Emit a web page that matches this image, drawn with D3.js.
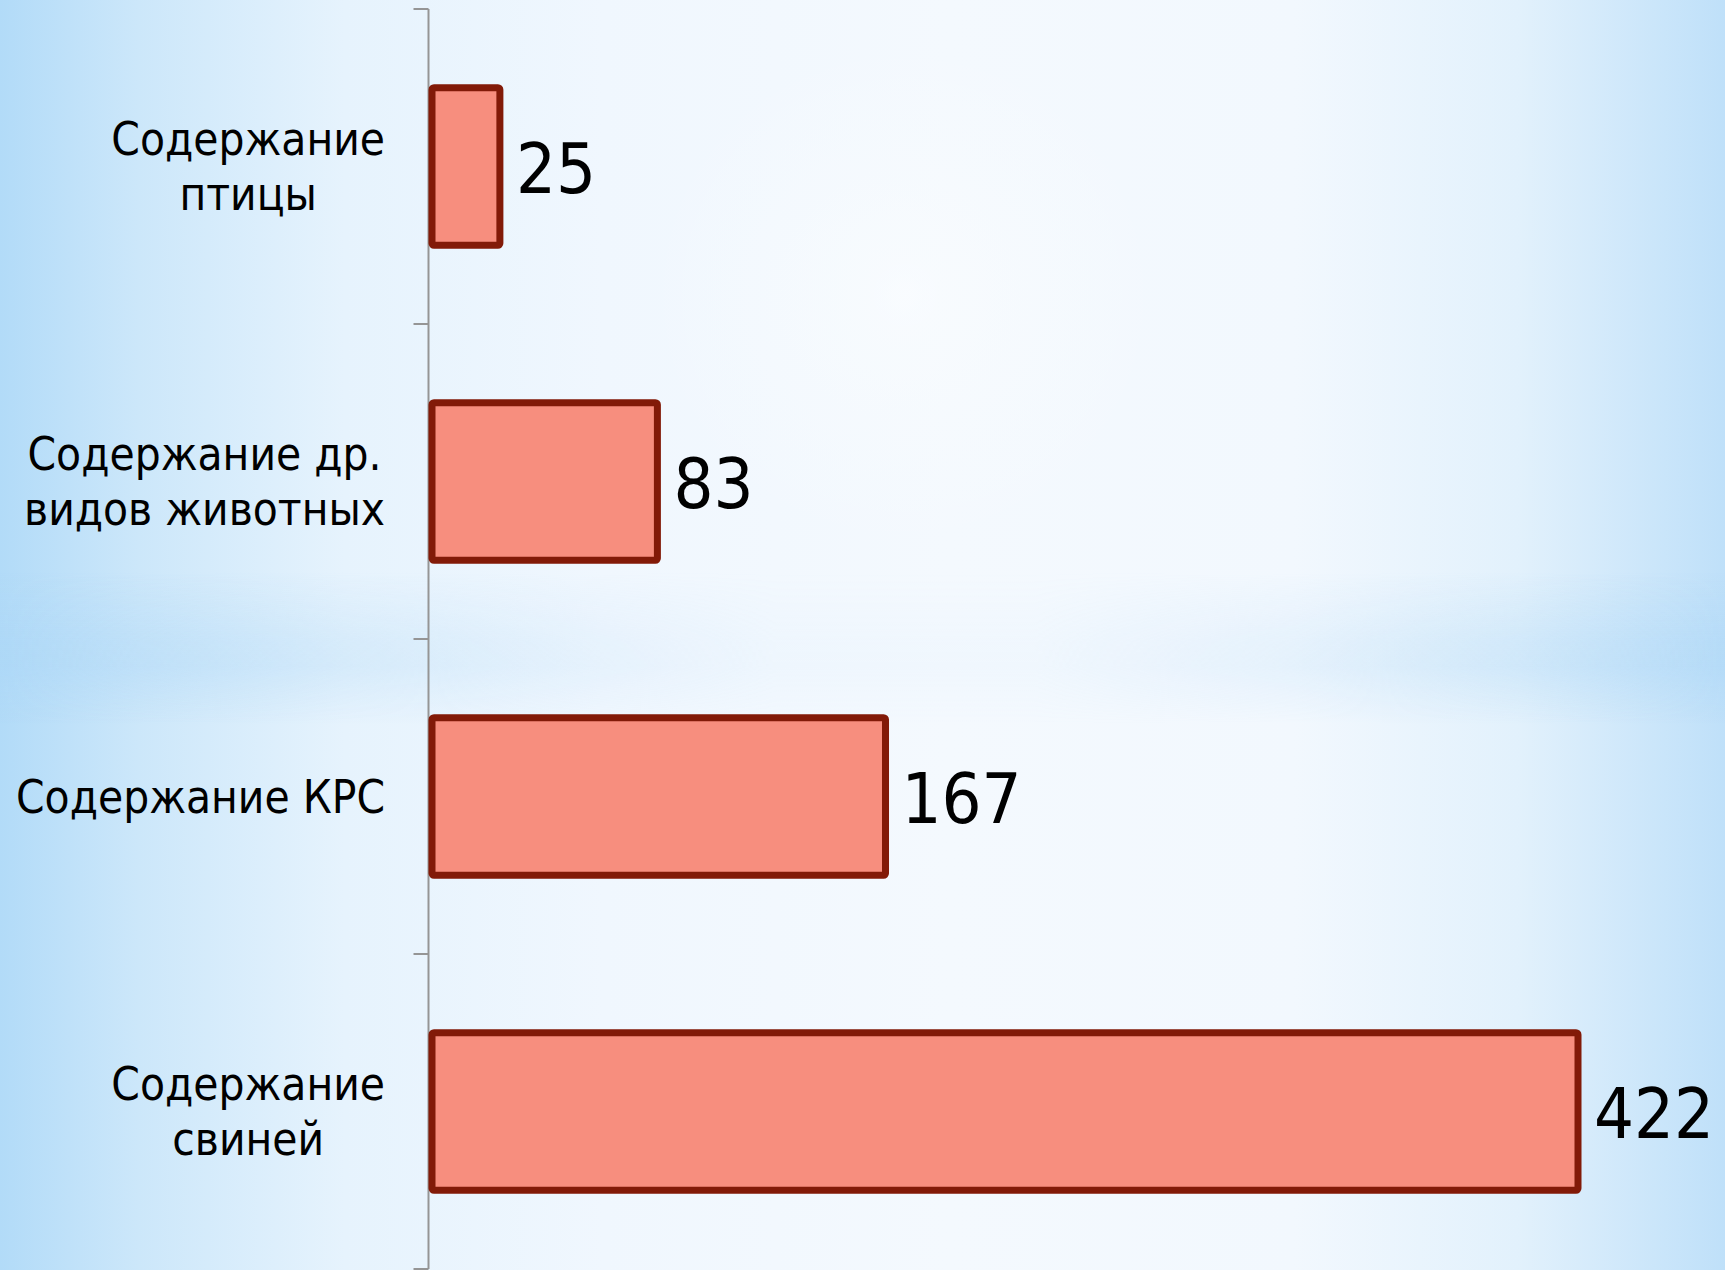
<!DOCTYPE html>
<html>
<head>
<meta charset="utf-8">
<script src="https://cdn.jsdelivr.net/npm/d3@7"></script>
<style>
  html, body { margin: 0; padding: 0; overflow: hidden; }
  body { width: 1725px; height: 1270px; }
  svg { display: block; }
  .cat { font-family: "DejaVu Sans Condensed", "DejaVu Sans", sans-serif; font-stretch: condensed; font-size: 45.5px; fill: #000; }
  .val { font-family: "DejaVu Sans Condensed", "DejaVu Sans", sans-serif; font-stretch: condensed; font-size: 70px; fill: #000; }
</style>
</head>
<body>
<svg id="chart" width="1725" height="1270"></svg>
<script>
// ---- data ----
const categories = [
  ["Содержание", "птицы"],
  ["Содержание др.", "видов животных"],
  ["Содержание КРС"],
  ["Содержание", "свиней"]
];
const categoryKeys = ["Содержание птицы", "Содержание др. видов животных", "Содержание КРС", "Содержание свиней"];
const values = [25, 83, 167, 422];
const valueLabels = ["25", "83", "167", "422"];

// ---- layout ----
const W = 1725, H = 1270;
const svg = d3.select("#chart");
const defs = svg.append("defs");

// background
const bg = defs.append("linearGradient").attr("id", "bgH").attr("x1", 0).attr("x2", 1).attr("y1", 0).attr("y2", 0);
[[0, "#b2dbf8"], [0.08, "#cce7fa"], [0.2, "#e6f3fd"], [0.35, "#f0f7fe"], [0.55, "#f4f9fe"], [0.75, "#f2f8fe"], [0.88, "#e2f1fc"], [1, "#bfe0f9"]]
  .forEach(s => bg.append("stop").attr("offset", s[0]).attr("stop-color", s[1]));
svg.append("rect").attr("width", W).attr("height", H).attr("fill", "url(#bgH)");

const band = defs.append("linearGradient").attr("id", "bandV").attr("x1", 0).attr("x2", 0).attr("y1", 0).attr("y2", 1);
[[0, 0], [0.45, 0], [0.505, 0.4], [0.525, 0.45], [0.57, 0], [1, 0]]
  .forEach(s => band.append("stop").attr("offset", s[0]).attr("stop-color", "#a9d5f6").attr("stop-opacity", s[1]));
const bandMask = defs.append("linearGradient").attr("id", "bandMaskG").attr("x1", 0).attr("x2", 1);
[[0, 1], [0.25, 0.5], [0.45, 0.1], [0.6, 0.1], [0.8, 0.5], [1, 1]]
  .forEach(s => bandMask.append("stop").attr("offset", s[0]).attr("stop-color", "#fff").attr("stop-opacity", s[1]));
defs.append("mask").attr("id", "bm").append("rect").attr("width", W).attr("height", H).attr("fill", "url(#bandMaskG)");
svg.append("rect").attr("width", W).attr("height", H).attr("fill", "url(#bandV)").attr("mask", "url(#bm)");

const glow = defs.append("radialGradient").attr("id", "glow");
[[0, 0.7], [0.12, 0.5], [0.5, 0.25], [1, 0]]
  .forEach(s => glow.append("stop").attr("offset", s[0]).attr("stop-color", "#fbfdff").attr("stop-opacity", s[1]));
svg.append("circle").attr("cx", 905).attr("cy", 295).attr("r", 260).attr("fill", "url(#glow)");

// scales
const y = d3.scaleBand().domain(categoryKeys).range([9, 1269]).paddingInner(0.5).paddingOuter(0.25);
const x = d3.scaleLinear().domain([0, 422]).range([432, 1578]);
const axisX = 428.5;

// axis line + ticks at band boundaries
const g = svg.append("g");
g.append("line").attr("x1", axisX).attr("x2", axisX).attr("y1", y.range()[0]).attr("y2", y.range()[1])
  .attr("stroke", "#959595").attr("stroke-width", 2);
const step = y.step();
const boundaries = categoryKeys.map(k => y(k) - (step - y.bandwidth()) / 2).concat([y.range()[1]]);
g.selectAll("line.tick").data(boundaries).join("line").attr("class", "tick")
  .attr("x1", axisX - 15).attr("x2", axisX).attr("y1", d => d).attr("y2", d => d)
  .attr("stroke", "#959595").attr("stroke-width", 2);

// bars
g.selectAll("rect.bar").data(values).join("rect").attr("class", "bar")
  .attr("x", x(0))
  .attr("y", (d, i) => y(categoryKeys[i]))
  .attr("width", d => x(d) - x(0))
  .attr("height", y.bandwidth())
  .attr("rx", 2)
  .attr("fill", "#f78e7e")
  .attr("stroke", "#821a08")
  .attr("stroke-width", 7);

// value labels
g.selectAll("text.val").data(values).join("text").attr("class", "val")
  .attr("x", d => x(d) + 16)
  .attr("y", (d, i) => y(categoryKeys[i]) + y.bandwidth() / 2 + 26)
  .text((d, i) => valueLabels[i]);

// category labels (block right-aligned, lines centered)
const labelRight = 385, lineH = 55;
categories.forEach((lines, i) => {
  const cy = y(categoryKeys[i]) + y.bandwidth() / 2;
  const t = g.append("text").attr("class", "cat").attr("text-anchor", "middle");
  const spans = lines.map((ln, j) => t.append("tspan")
    .attr("y", cy + 16 + (j - (lines.length - 1) / 2) * lineH).text(ln));
  const maxW = d3.max(spans, s => s.node().getComputedTextLength());
  spans.forEach(s => s.attr("x", labelRight - maxW / 2));
});
</script>
</body>
</html>
